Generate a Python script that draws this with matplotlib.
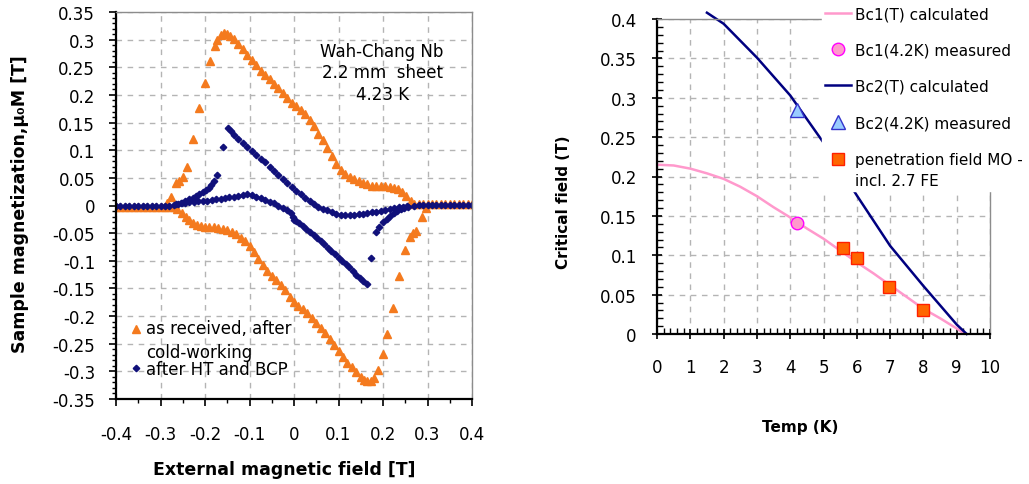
"""
Two-panel figure: Nb magnetization loops (left) and critical fields vs temperature (right).
Writes out.png (1029x485).
"""

import matplotlib

matplotlib.use("Agg")
import matplotlib.pyplot as plt
from matplotlib.legend_handler import HandlerLine2D
from matplotlib.ticker import FixedLocator, FuncFormatter, MultipleLocator

plt.rcParams["font.family"] = ["DejaVu Sans"]
plt.rcParams["axes.unicode_minus"] = False

W_PX, H_PX, DPI = 1029, 485, 100

# ---------- left panel: magnetization data (T) ----------
# as received: upper branch (field decreasing)
OR_UP_X = [0.40, 0.39, 0.38, 0.37, 0.36, 0.35, 0.34, 0.33, 0.32, 0.31, 0.30, 0.29, 0.28, 0.27,
           0.262, 0.252, 0.243, 0.234, 0.225, 0.215, 0.205, 0.195, 0.185, 0.175, 0.165, 0.155,
           0.145, 0.135, 0.125, 0.115, 0.105, 0.095, 0.085, 0.075, 0.065, 0.055, 0.045, 0.035,
           0.025, 0.015, 0.005, -0.005, -0.015, -0.025, -0.035, -0.045, -0.055, -0.065, -0.075,
           -0.085, -0.095, -0.105, -0.115, -0.125, -0.135, -0.143, -0.150, -0.157, -0.164,
           -0.172, -0.178, -0.188, -0.201, -0.213, -0.227, -0.240, -0.250, -0.258, -0.265,
           -0.276, -0.285]
OR_UP_Y = [0.002, 0.002, 0.002, 0.002, 0.002, 0.002, 0.002, 0.002, 0.002, 0.002, 0.002, 0.002,
           0.002, 0.002, 0.008, 0.017, 0.024, 0.029, 0.032, 0.034, 0.035, 0.035, 0.035, 0.036,
           0.038, 0.041, 0.045, 0.048, 0.052, 0.057, 0.064, 0.075, 0.090, 0.104, 0.118, 0.130,
           0.143, 0.155, 0.165, 0.172, 0.180, 0.186, 0.195, 0.203, 0.212, 0.220, 0.228, 0.236,
           0.244, 0.254, 0.263, 0.272, 0.283, 0.292, 0.301, 0.307, 0.310, 0.312, 0.309, 0.300,
           0.288, 0.262, 0.222, 0.176, 0.121, 0.070, 0.052, 0.045, 0.040, 0.015, 0.004]
# as received: lower branch (field increasing)
OR_LO_X = [-0.40, -0.39, -0.38, -0.37, -0.36, -0.35, -0.34, -0.33, -0.32, -0.31, -0.30, -0.29,
           -0.28, -0.27, -0.262, -0.252, -0.243, -0.235, -0.227, -0.218, -0.209, -0.200,
           -0.190, -0.180, -0.170, -0.160, -0.150, -0.140, -0.130, -0.120, -0.110, -0.100,
           -0.090, -0.080, -0.070, -0.060, -0.050, -0.040, -0.030, -0.020, -0.010, 0.000,
           0.010, 0.020, 0.030, 0.040, 0.050, 0.060, 0.070, 0.080, 0.090, 0.100, 0.110, 0.120,
           0.130, 0.140, 0.150, 0.158, 0.165, 0.172, 0.180, 0.188, 0.200, 0.209, 0.222, 0.236,
           0.249, 0.261, 0.267, 0.275, 0.288, 0.297]
OR_LO_Y = [-0.003, -0.003, -0.003, -0.003, -0.003, -0.003, -0.003, -0.003, -0.003, -0.003,
           -0.003, -0.003, -0.003, -0.003, -0.006, -0.013, -0.020, -0.026, -0.031, -0.035,
           -0.037, -0.038, -0.038, -0.039, -0.040, -0.042, -0.045, -0.048, -0.052, -0.058,
           -0.065, -0.073, -0.085, -0.097, -0.108, -0.118, -0.127, -0.135, -0.143, -0.152,
           -0.165, -0.175, -0.181, -0.188, -0.195, -0.203, -0.212, -0.221, -0.230, -0.242,
           -0.252, -0.263, -0.274, -0.284, -0.293, -0.302, -0.310, -0.315, -0.318, -0.318,
           -0.312, -0.298, -0.269, -0.232, -0.185, -0.127, -0.080, -0.057, -0.050, -0.046,
           -0.021, -0.005]

# after HT and BCP: field increasing
NV_A_X = [-0.40, -0.39, -0.38, -0.37, -0.36, -0.35, -0.34, -0.33, -0.32, -0.31, -0.30, -0.29,
          -0.28, -0.27, -0.265, -0.255, -0.245, -0.235, -0.225, -0.215, -0.205, -0.195, -0.185,
          -0.175, -0.165, -0.155, -0.145, -0.135, -0.125, -0.115, -0.105, -0.095, -0.085,
          -0.075, -0.065, -0.055, -0.045, -0.035, -0.025, -0.015, -0.007, -0.003, 0.000, 0.005,
          0.012, 0.020, 0.028, 0.036, 0.044, 0.052, 0.060, 0.068, 0.076, 0.084, 0.092, 0.100,
          0.108, 0.116, 0.124, 0.132, 0.140, 0.148, 0.156, 0.163, 0.173, 0.184, 0.192, 0.200,
          0.208, 0.216, 0.224, 0.232, 0.240, 0.248, 0.256]
NV_A_Y = [0.0, 0.0, 0.0, 0.0, 0.0, 0.0, 0.0, 0.0, 0.0, 0.0, 0.0, 0.0, 0.0, 0.001, 0.002, 0.004,
          0.005, 0.006, 0.007, 0.008, 0.009, 0.009, 0.010, 0.011, 0.012, 0.013, 0.015, 0.016,
          0.018, 0.019, 0.020, 0.019, 0.016, 0.013, 0.010, 0.007, 0.004, 0.000, -0.004, -0.008,
          -0.013, -0.020, -0.026, -0.028, -0.031, -0.037, -0.042, -0.048, -0.053, -0.058,
          -0.064, -0.070, -0.076, -0.082, -0.088, -0.095, -0.100, -0.106, -0.112, -0.118,
          -0.125, -0.131, -0.137, -0.142, -0.095, -0.048, -0.038, -0.030, -0.024, -0.019,
          -0.014, -0.010, -0.007, -0.004, -0.002]
# after HT and BCP: field decreasing
NV_B_X = [0.40, 0.39, 0.38, 0.37, 0.36, 0.35, 0.34, 0.33, 0.32, 0.31, 0.30, 0.29, 0.28, 0.27,
          0.255, 0.245, 0.235, 0.225, 0.215, 0.205, 0.195, 0.185, 0.175, 0.165, 0.155, 0.145,
          0.135, 0.125, 0.115, 0.105, 0.095, 0.085, 0.075, 0.065, 0.055, 0.045, 0.035, 0.025,
          0.015, 0.005, -0.005, -0.015, -0.025, -0.035, -0.045, -0.055, -0.065, -0.075, -0.085,
          -0.095, -0.105, -0.115, -0.125, -0.135, -0.142, -0.148, -0.160, -0.173, -0.180,
          -0.186, -0.192, -0.198, -0.205, -0.213, -0.220, -0.228, -0.236, -0.244, -0.252,
          -0.260]
NV_B_Y = [0.001, 0.001, 0.001, 0.001, 0.001, 0.001, 0.001, 0.001, 0.001, 0.001, 0.001, 0.001,
          0.001, 0.0, -0.001, -0.002, -0.003, -0.005, -0.006, -0.008, -0.010, -0.011, -0.012,
          -0.014, -0.015, -0.016, -0.017, -0.018, -0.018, -0.017, -0.015, -0.012, -0.009,
          -0.006, -0.002, 0.003, 0.008, 0.014, 0.020, 0.026, 0.033, 0.040, 0.048, 0.055, 0.063,
          0.070, 0.078, 0.085, 0.092, 0.099, 0.106, 0.113, 0.120, 0.128, 0.134, 0.140, 0.106,
          0.055, 0.044, 0.037, 0.032, 0.028, 0.024, 0.020, 0.017, 0.014, 0.011, 0.008, 0.005,
          0.003]

LEFT_XTICKS = [-0.4, -0.3, -0.2, -0.1, 0.0, 0.1, 0.2, 0.3, 0.4]
LEFT_YTICKS = [-0.35, -0.3, -0.25, -0.2, -0.15, -0.1, -0.05, 0.0, 0.05, 0.1, 0.15, 0.2, 0.25,
               0.3, 0.35]
LEFT_NOTE = ["Wah-Chang Nb", "2.2 mm  sheet", "4.23 K"]

# ---------- right panel: critical fields ----------
BC1_T = [0, 0.5, 1, 1.5, 2, 2.5, 3, 3.5, 4, 4.5, 5, 5.5, 6, 6.5, 7, 7.5, 8, 8.5, 9, 9.25]
BC1_B = [0.215, 0.214, 0.210, 0.204, 0.197, 0.187, 0.175, 0.161, 0.148, 0.134, 0.121, 0.106,
         0.091, 0.077, 0.062, 0.047, 0.032, 0.020, 0.007, 0.0]
BC2_T = [1.5, 2, 3, 4, 5, 6, 7, 8, 9, 9.3]
BC2_B = [0.408, 0.394, 0.351, 0.303, 0.243, 0.176, 0.112, 0.061, 0.012, 0.0]
BC1_MEAS_T, BC1_MEAS_B = [4.2], [0.141]
BC2_MEAS_T, BC2_MEAS_B = [4.2], [0.284]
PEN_T = [5.58, 6.0, 6.98, 7.98]
PEN_B = [0.109, 0.097, 0.060, 0.031]

ORANGE = "#F47A1E"
NAVY_PTS = "#10107A"
PINK = "#FF99CC"
NAVY = "#000080"
GRID = "#B4B4B4"
GRAY_SPINE = "#8C8C8C"


class FirstLineHandler(HandlerLine2D):
    """Legend key lifted so it sits beside the first line of a two-line label."""

    def __init__(self, lift_pt, **kw):
        super().__init__(**kw)
        self.lift_pt = lift_pt

    def create_artists(self, legend, orig_handle, xdescent, ydescent, width, height,
                       fontsize, trans):
        return super().create_artists(legend, orig_handle, xdescent,
                                      ydescent - 2 * self.lift_pt, width, height,
                                      fontsize, trans)


def _rect(left, top, right, bottom):
    """Axes rectangle from pixel edges."""
    return [left / W_PX, 1 - bottom / H_PX, (right - left) / W_PX, (bottom - top) / H_PX]


def _fmt(v, _pos):
    return f"{v:g}"


def _frame(ax):
    for side in ("left", "bottom"):
        ax.spines[side].set_color("black")
        ax.spines[side].set_linewidth(1.6)
    for side in ("top", "right"):
        ax.spines[side].set_color(GRAY_SPINE)
        ax.spines[side].set_linewidth(1.0)
    ax.grid(True, which="major", color=GRID, linestyle=(0, (4, 4)), linewidth=1.0)
    ax.set_axisbelow(True)


fig = plt.figure(figsize=(W_PX / DPI, H_PX / DPI), dpi=DPI)

# ---- left ----
ax1 = fig.add_axes(_rect(116, 13, 472, 400))
_frame(ax1)
h_or, = ax1.plot(OR_UP_X, OR_UP_Y, ls="none", marker="^", ms=6, color=ORANGE, mec=ORANGE,
                 label="as received, after\ncold-working")
ax1.plot(OR_LO_X, OR_LO_Y, ls="none", marker="^", ms=6, color=ORANGE, mec=ORANGE)
ax1.plot(NV_A_X, NV_A_Y, ls="none", marker="D", ms=3.3, color=NAVY_PTS, mec=NAVY_PTS,
         label="after HT and BCP")
ax1.plot(NV_B_X, NV_B_Y, ls="none", marker="D", ms=3.3, color=NAVY_PTS, mec=NAVY_PTS)
ax1.set_xlim(-0.4, 0.4)
ax1.set_ylim(-0.35, 0.35)
ax1.xaxis.set_major_locator(FixedLocator(LEFT_XTICKS))
ax1.yaxis.set_major_locator(FixedLocator(LEFT_YTICKS))
ax1.xaxis.set_minor_locator(MultipleLocator(0.05))
ax1.yaxis.set_minor_locator(MultipleLocator(0.01))
ax1.xaxis.set_major_formatter(FuncFormatter(_fmt))
ax1.yaxis.set_major_formatter(FuncFormatter(_fmt))
ax1.tick_params(which="major", direction="out", length=5, width=1.2, labelsize=12)
ax1.tick_params(which="minor", direction="out", length=3, width=1.0)
ax1.tick_params(axis="y", which="major", pad=10)
ax1.tick_params(axis="x", which="major", pad=14)
ax1.set_xlabel("External magnetic field [T]", fontsize=12.5, fontweight="bold", va="center")
ax1.xaxis.set_label_coords((284 - 116) / 356, (400 - 470) / 387)
ax1.set_ylabel("Sample magnetization,μ₀M [T]", fontsize=12.5, fontweight="bold", va="center")
ax1.yaxis.set_label_coords((20 - 116) / 356, (400 - 204) / 387)
ax1.text(0.198, 0.296, "\n".join(LEFT_NOTE), ha="center", va="top", fontsize=12,
         linespacing=1.25)
leg1 = ax1.legend(loc="upper left", bbox_to_anchor=(121 / W_PX, 1 - 312 / H_PX),
                  bbox_transform=fig.transFigure, frameon=False, fontsize=12, numpoints=1,
                  handlelength=0.8, handletextpad=0.2, labelspacing=-0.05, borderpad=0.0,
                  handler_map={h_or: FirstLineHandler(8.6)})
leg1.get_texts()[0].set_linespacing(1.4)

# ---- right ----
ax2 = fig.add_axes(_rect(657, 20, 990, 335))
_frame(ax2)
ax2.plot(BC1_T, BC1_B, color=PINK, lw=1.8, label="Bc1(T) calculated")
ax2.plot(BC1_MEAS_T, BC1_MEAS_B, ls="none", marker="o", ms=9, color=PINK, mec="#FF00FF",
         mew=1.0, label="Bc1(4.2K) measured", zorder=4)
ax2.plot(BC2_T, BC2_B, color=NAVY, lw=1.8, label="Bc2(T) calculated", clip_on=False)
ax2.plot(BC2_MEAS_T, BC2_MEAS_B, ls="none", marker="^", ms=10, color="#99CCFF", mec="#3333CC",
         mew=1.0, label="Bc2(4.2K) measured", zorder=4)
h_pen, = ax2.plot(PEN_T, PEN_B, ls="none", marker="s", ms=8.5, color="#FF6600", mec="#FF2000",
                  mew=1.0, label="penetration field MO -\nincl. 2.7 FE", zorder=4)
ax2.set_xlim(0, 10)
ax2.set_ylim(0, 0.4)
ax2.xaxis.set_major_locator(MultipleLocator(1))
ax2.yaxis.set_major_locator(MultipleLocator(0.05))
ax2.xaxis.set_minor_locator(MultipleLocator(0.2))
ax2.yaxis.set_minor_locator(MultipleLocator(0.01))
ax2.xaxis.set_major_formatter(FuncFormatter(_fmt))
ax2.yaxis.set_major_formatter(FuncFormatter(_fmt))
ax2.tick_params(which="major", direction="inout", length=7, width=1.2, labelsize=12)
ax2.tick_params(which="minor", direction="in", length=4, width=1.0)
ax2.tick_params(axis="y", which="major", pad=11)
ax2.tick_params(axis="x", which="major", pad=14)
ax2.set_xlabel("Temp (K)", fontsize=11, fontweight="bold", va="center")
ax2.xaxis.set_label_coords((800 - 657) / 333, (335 - 428) / 315)
ax2.set_ylabel("Critical field (T)", fontsize=11, fontweight="bold", va="center")
ax2.yaxis.set_label_coords((563 - 657) / 333, (335 - 202) / 315)
leg2 = ax2.legend(loc="upper left", bbox_to_anchor=(822 / W_PX, 1 - 4 / H_PX),
                  bbox_transform=fig.transFigure, frameon=True, fancybox=False,
                  fontsize=11, numpoints=1, handlelength=1.7, handletextpad=0.25,
                  labelspacing=1.4, borderpad=0.2, borderaxespad=0.0,
                  handler_map={h_pen: FirstLineHandler(8.2)})
leg2.get_texts()[-1].set_linespacing(1.5)
leg2.get_frame().set_facecolor("white")
leg2.get_frame().set_edgecolor("white")
leg2.get_frame().set_alpha(1.0)
leg2.set_zorder(10)

fig.savefig("out.png", dpi=DPI)
